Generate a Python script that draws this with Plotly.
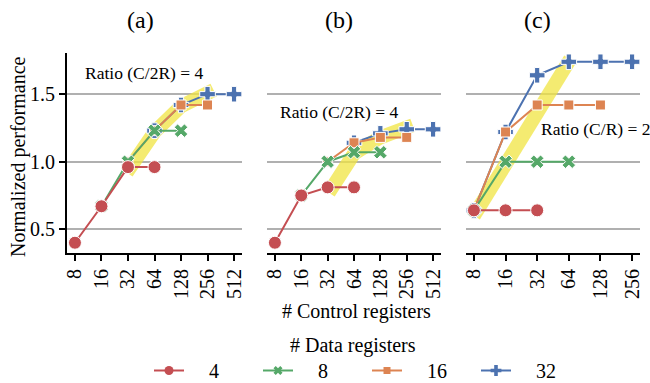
import math
import plotly.graph_objects as go

# ---------------- data ----------------
ticks_ab = [8, 16, 32, 64, 128, 256, 512]
ticks_c = [8, 16, 32, 64, 128, 256]
series_names = ["4", "8", "16", "32"]
colors = ["#C44E52", "#55A868", "#DD8452", "#4C72B0"]
symbols = ["circle", "x", "square", "cross"]
sizes = [13, 12, 10, 13]
legend_sizes = [9, 8, 7, 9]

# panel (a)
a_x = [[8, 16, 32, 64], [16, 32, 64, 128], [32, 64, 128, 256], [64, 128, 256, 512]]
a_y = [[0.40, 0.67, 0.96, 0.96], [0.67, 1.00, 1.23, 1.23],
       [1.00, 1.23, 1.42, 1.42], [1.23, 1.42, 1.50, 1.50]]
# panel (b)
b_x = [[8, 16, 32, 64], [16, 32, 64, 128], [32, 64, 128, 256], [64, 128, 256, 512]]
b_y = [[0.40, 0.75, 0.81, 0.81], [0.75, 1.00, 1.07, 1.07],
       [1.00, 1.14, 1.18, 1.18], [1.14, 1.21, 1.24, 1.24]]
# panel (c)
c_x = [[8, 16, 32], [8, 16, 32, 64], [8, 16, 32, 64, 128], [8, 16, 32, 64, 128, 256]]
c_y = [[0.64, 0.64, 0.64], [0.64, 1.00, 1.00, 1.00],
       [0.64, 1.22, 1.42, 1.42, 1.42], [0.64, 1.22, 1.64, 1.74, 1.74, 1.74]]

# highlight bands (diagonal of constant ratio)
band_a_x = [31, 64, 128, 300]
band_a_y = [0.92, 1.22, 1.41, 1.53]
band_b_x = [33, 64, 128, 300]
band_b_y = [0.77, 1.06, 1.18, 1.27]
band_c_x = [8, 66]
band_c_y = [0.60, 1.76]

panel_titles = ["(a)", "(b)", "(c)"]
ratio_texts = ["Ratio (C/2R) = 4", "Ratio (C/2R) = 4", "Ratio (C/R) = 2"]

# ---------------- figure ----------------
FONT = "Liberation Serif"
W, H = 650, 383
ML, MR, MT, MB = 67, 10, 53, 130
PW = W - ML - MR
PH = H - MT - MB

def px_x(p):
    return (p - ML) / PW

def px_y(p):
    return (H - MB - p) / PH

fig = go.Figure()
band_color = "rgba(240,228,66,0.75)"
panels = [(a_x, a_y, band_a_x, band_a_y, "x", "y"),
          (b_x, b_y, band_b_x, band_b_y, "x2", "y2"),
          (c_x, c_y, band_c_x, band_c_y, "x3", "y3")]

for pi, (px_, py_, bx, by, xa, ya) in enumerate(panels):
    fig.add_trace(go.Scatter(x=bx, y=by, mode="lines", xaxis=xa, yaxis=ya,
                             line=dict(color=band_color, width=14),
                             showlegend=False, hoverinfo="skip"))
    for si in [3, 2, 1, 0]:
        fig.add_trace(go.Scatter(
            x=px_[si], y=py_[si], mode="lines+markers", xaxis=xa, yaxis=ya,
            name=series_names[si], legendgroup=series_names[si],
            showlegend=False,
            line=dict(color=colors[si], width=2),
            marker=dict(symbol=symbols[si], size=sizes[si], color=colors[si],
                        line=dict(color="white", width=1))))

# legend entries (small markers like the reference legend)
for si in range(4):
    fig.add_trace(go.Scatter(
        x=[None], y=[None], mode="lines+markers",
        name="\u00a0\u00a0\u00a0\u00a0" + series_names[si],
        legendgroup=series_names[si], legendrank=si + 1, showlegend=True,
        line=dict(color=colors[si], width=2),
        marker=dict(symbol=symbols[si], size=legend_sizes[si], color=colors[si],
                    line=dict(width=0))))

L2 = math.log10(2)
rng_ab = [math.log10(8) - 0.3 * L2, math.log10(512) + 0.3 * L2]
rng_c = [math.log10(8) - 0.25 * L2, math.log10(256) + 0.25 * L2]

domains = [[px_x(67), px_x(242)], [px_x(267), px_x(441)], [px_x(466), px_x(640)]]

common_x = dict(type="log", showgrid=False, showline=True, linecolor="black",
                linewidth=2, ticks="outside", ticklen=6, tickwidth=1.5,
                tickcolor="black", tickangle=-90, zeroline=False, automargin=False,
                tickfont=dict(family=FONT, size=20, color="black"))
yr = [0.324, 1.805]
common_y = dict(range=yr, tickvals=[0.5, 1.0, 1.5], showgrid=True,
                gridcolor="#b0b0b0", gridwidth=1.5, zeroline=False,
                automargin=False)

fig.update_layout(
    xaxis=dict(domain=domains[0], range=rng_ab, tickvals=ticks_ab,
               ticktext=[str(t) for t in ticks_ab], anchor="y", **common_x),
    xaxis2=dict(domain=domains[1], range=rng_ab, tickvals=ticks_ab,
                ticktext=[str(t) for t in ticks_ab], anchor="y2", **common_x),
    xaxis3=dict(domain=domains[2], range=rng_c, tickvals=ticks_c,
                ticktext=[str(t) for t in ticks_c], anchor="y3", **common_x),
    yaxis=dict(anchor="x", showline=True, linecolor="black", linewidth=2,
               ticks="outside", ticklen=6, tickwidth=1.5, tickcolor="black",
               ticktext=["0.5", "1.0", "1.5"],
               tickfont=dict(family=FONT, size=20, color="black"),
               **common_y),
    yaxis2=dict(anchor="x2", showline=False, showticklabels=False, ticks="",
                matches="y", **common_y),
    yaxis3=dict(anchor="x3", showline=False, showticklabels=False, ticks="",
                matches="y", **common_y),
    width=W, height=H,
    margin=dict(l=ML, r=MR, t=MT, b=MB, autoexpand=False),
    plot_bgcolor="white", paper_bgcolor="white",
    font=dict(family=FONT, size=20, color="black"),
    legend=dict(orientation="h", xref="container", yref="container",
                x=(353 + 14) / W, xanchor="center", y=1 - 351 / H,
                yanchor="top", entrywidth=64, entrywidthmode="pixels",
                font=dict(family=FONT, size=20), bgcolor="rgba(0,0,0,0)",
                itemclick=False),
)

ann = []
title_px = [140, 339, 537]
for t, xp in zip(panel_titles, title_px):
    ann.append(dict(text=t, x=px_x(xp), y=px_y(20), xref="paper", yref="paper",
                    showarrow=False, xanchor="center", yanchor="middle",
                    font=dict(family=FONT, size=24, color="black")))
ratio_pos = [(144, 73, "center"), (339, 112, "center"), (539, 129, "left")]
for t, (xp, yp, anc) in zip(ratio_texts, ratio_pos):
    ann.append(dict(text=t, x=px_x(xp), y=px_y(yp), xref="paper", yref="paper",
                    showarrow=False, xanchor=anc, yanchor="middle",
                    font=dict(family=FONT, size=17.5, color="black")))
ann.append(dict(text="# Control registers", x=px_x(356), y=px_y(311),
                xref="paper", yref="paper", showarrow=False,
                xanchor="center", yanchor="middle",
                font=dict(family=FONT, size=20, color="black")))
ann.append(dict(text="# Data registers", x=px_x(353), y=px_y(345),
                xref="paper", yref="paper", showarrow=False,
                xanchor="center", yanchor="middle",
                font=dict(family=FONT, size=20, color="black")))
ann.append(dict(text="Normalized performance", x=px_x(18), y=px_y(157),
                xref="paper", yref="paper", showarrow=False, textangle=-90,
                xanchor="center", yanchor="middle",
                font=dict(family=FONT, size=20, color="black")))
fig.update_layout(annotations=ann)

fig.write_html("out.html")
